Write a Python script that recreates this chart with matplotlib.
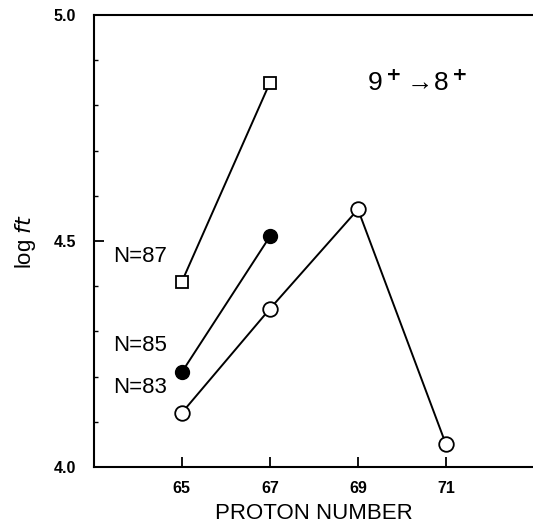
import matplotlib
matplotlib.use('Agg')
import matplotlib.pyplot as plt
from matplotlib.ticker import MultipleLocator

plt.rcParams['font.family'] = ['Liberation Sans', 'DejaVu Sans']
plt.rcParams['mathtext.default'] = 'regular'

# Data
z_n87 = [65, 67]
logft_n87 = [4.41, 4.85]
z_n85 = [65, 67]
logft_n85 = [4.21, 4.51]
z_n83 = [65, 67, 69, 71]
logft_n83 = [4.12, 4.35, 4.57, 4.05]

series_labels = ['N=87', 'N=85', 'N=83']
label_y = [4.465, 4.268, 4.175]
x_ticks = [65, 67, 69, 71]
y_ticks = [4.0, 4.5, 5.0]

fig = plt.figure(figsize=(5.33, 5.32), dpi=100)
ax = fig.add_axes([0.176, 0.122, 0.826, 0.85])

ax.plot(z_n87, logft_n87, color='black', lw=1.4, marker='s', ms=9,
        mfc='white', mec='black', mew=1.3)
ax.plot(z_n85, logft_n85, color='black', lw=1.4, marker='o', ms=10,
        mfc='black', mec='black')
ax.plot(z_n83, logft_n83, color='black', lw=1.4, marker='o', ms=10.5,
        mfc='white', mec='black', mew=1.3)

for lab, yy in zip(series_labels, label_y):
    ax.text(63.45, yy, lab, fontsize=16, va='center', ha='left')

ax.text(69.2, 4.85, r'9$^{\bf +}\!\rightarrow\!$8$^{\bf +}$', fontsize=19,
        va='center', ha='left')

ax.set_xlim(63, 73)
ax.set_ylim(4.0, 5.0)
ax.set_xticks(x_ticks)
ax.set_yticks(y_ticks)
ax.set_xticklabels([str(t) for t in x_ticks], fontweight='bold', fontsize=11.5)
ax.set_yticklabels([f'{t:.1f}' for t in y_ticks], fontweight='bold', fontsize=11.5)
ax.yaxis.set_minor_locator(MultipleLocator(0.1))
ax.tick_params(axis='both', which='major', direction='in', length=7, width=1.3, pad=13)
ax.tick_params(axis='y', which='minor', direction='in', length=3, width=1)
ax.tick_params(axis='x', which='both', top=False)
ax.tick_params(axis='x', which='major', pad=10)

ax.spines['right'].set_visible(False)
for s in ['left', 'top', 'bottom']:
    ax.spines[s].set_linewidth(1.5)

ax.set_xlabel('PROTON NUMBER', fontsize=16, labelpad=5)
ax.set_ylabel(r'log $\it{ft}$', fontsize=16, labelpad=11)

fig.savefig('out.png', dpi=100)
